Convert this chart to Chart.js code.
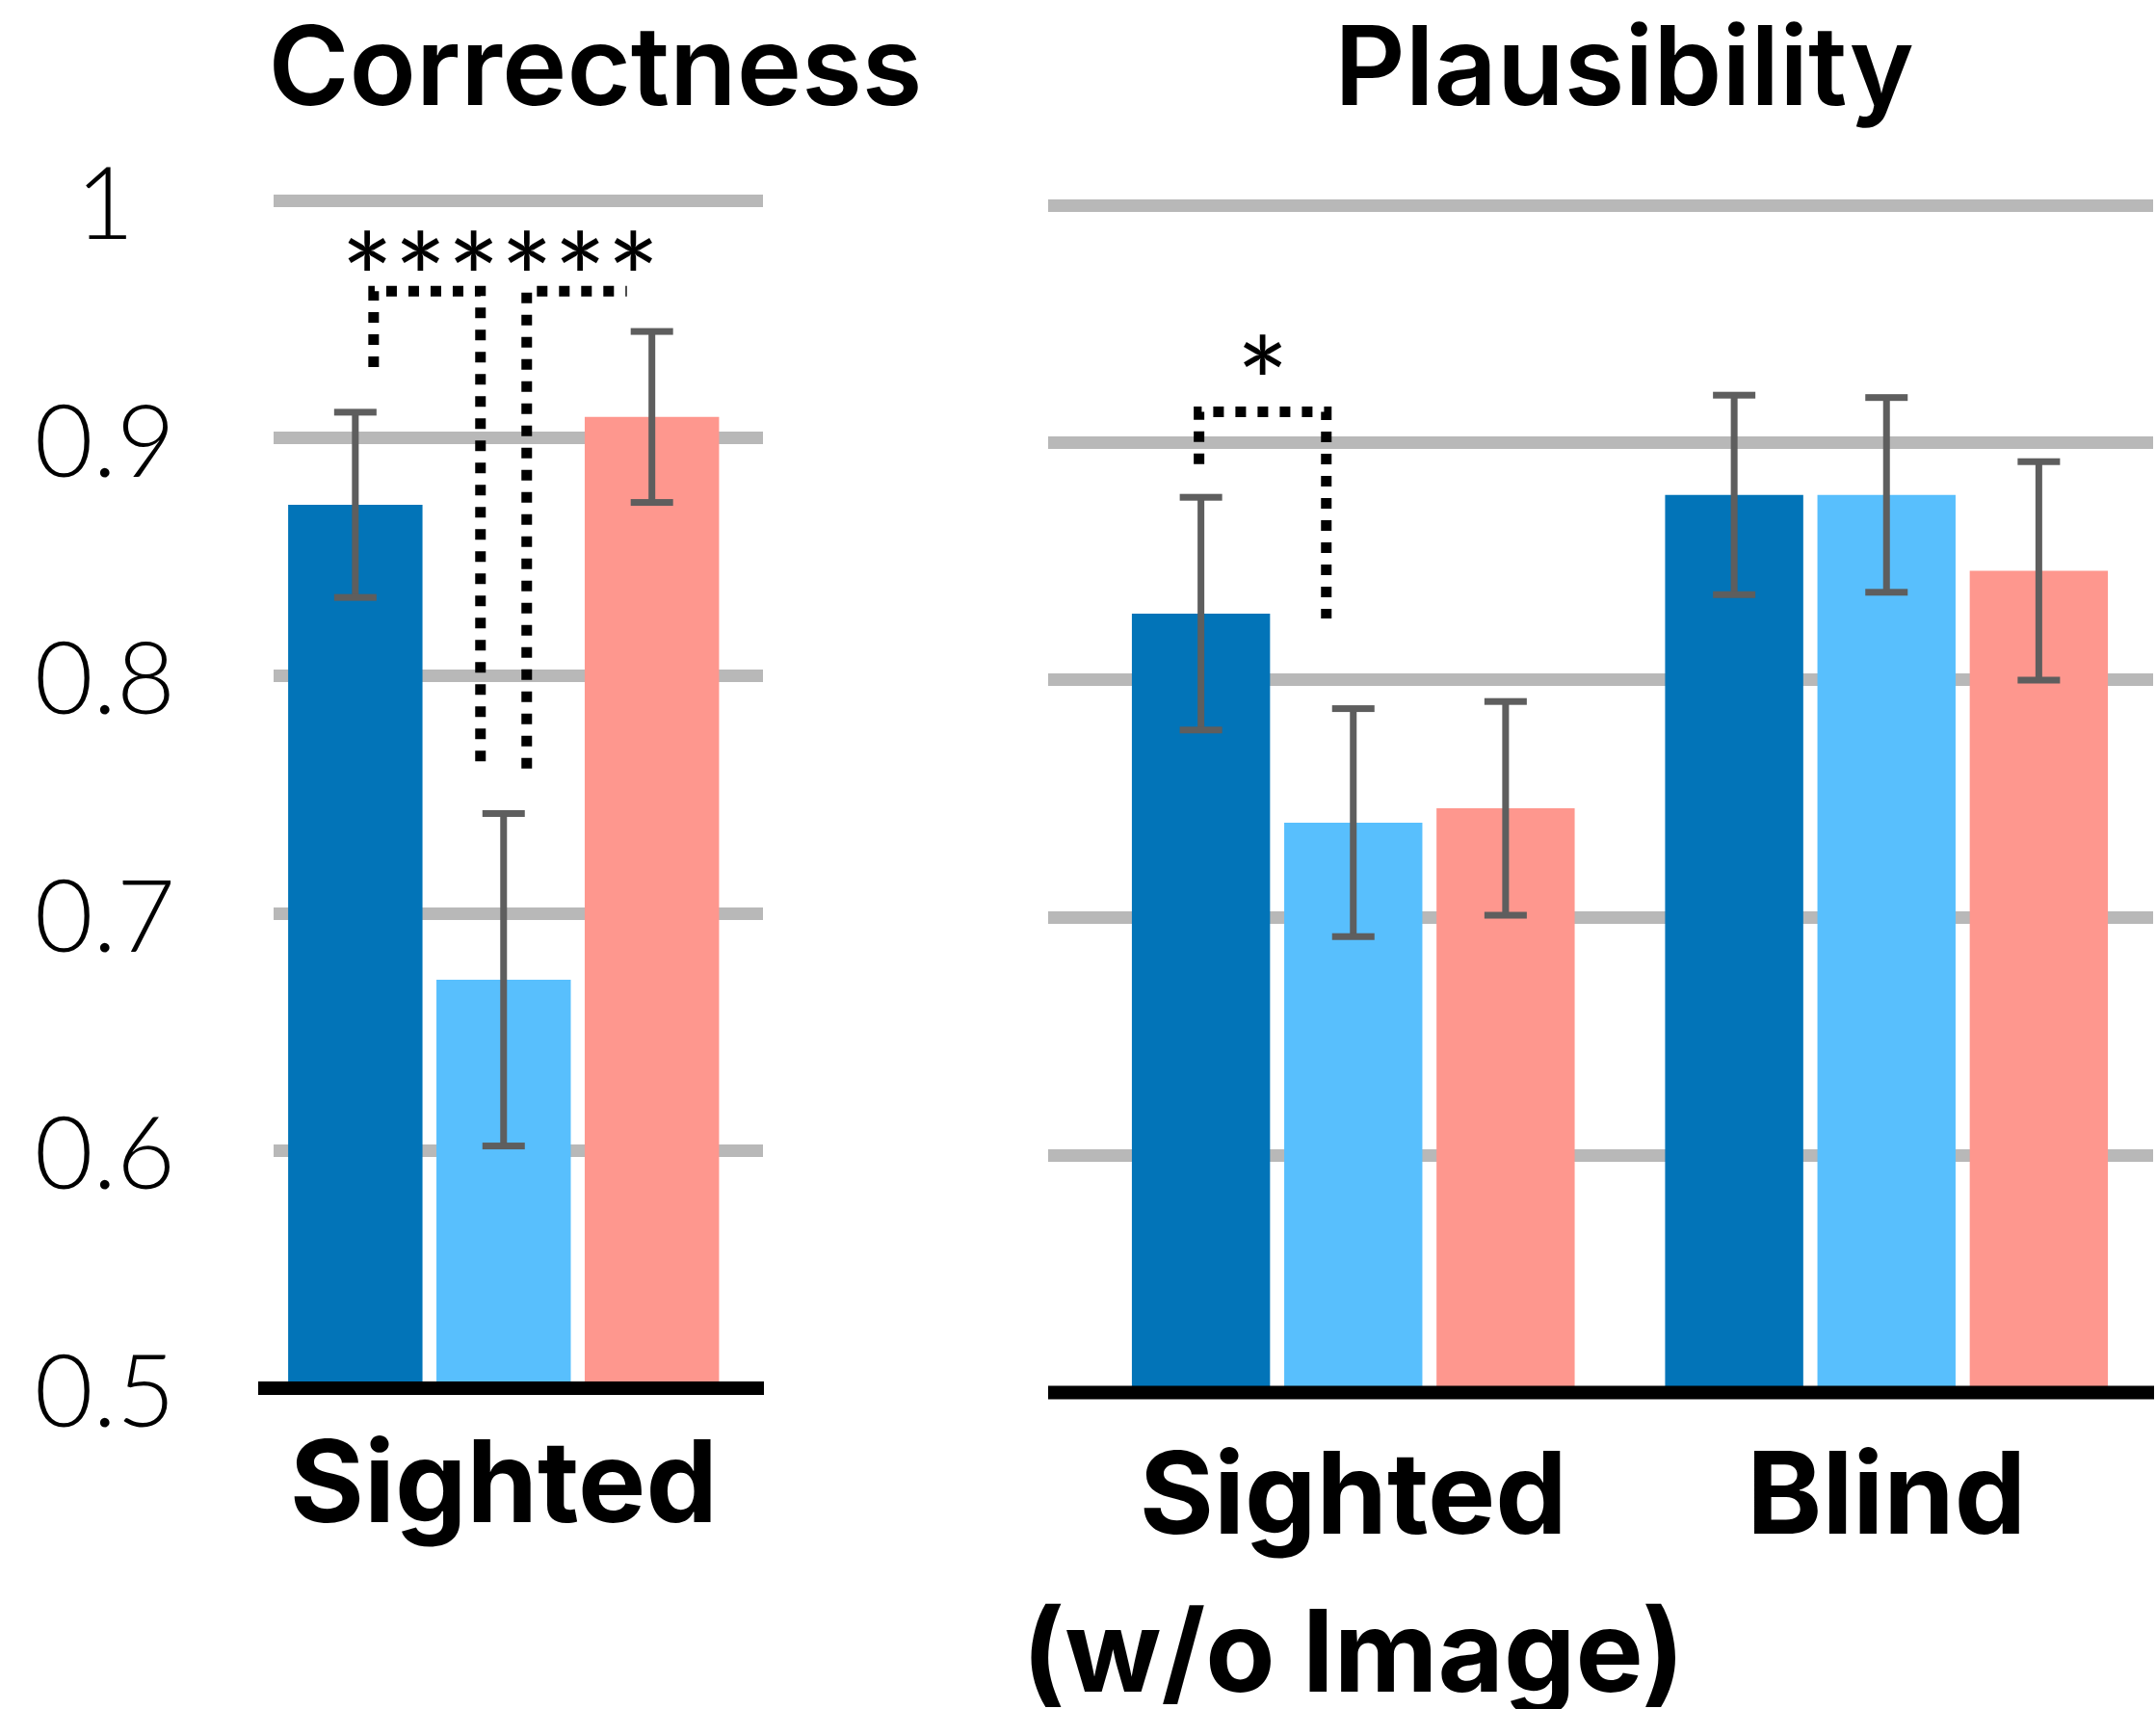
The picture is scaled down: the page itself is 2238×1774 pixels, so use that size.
<!DOCTYPE html>
<html>
<head>
<meta charset="utf-8">
<script src="https://cdn.jsdelivr.net/npm/chart.js@4.4.1/dist/chart.umd.min.js"></script>
<style>
  html, body { margin: 0; padding: 0; background: #fff; }
  #page { position: relative; width: 2238px; height: 1774px; overflow: hidden; background: #fff; }
  canvas { position: absolute; top: 0; }
  .title { position: absolute; top: 11px; width: 1000px; text-align: center; color: #000;
           font: 600 114px Inter, sans-serif; line-height: 114px; }
</style>
</head>
<body>
<div id="page">
  <canvas id="correctness" width="1000" height="1774" style="left:0"></canvas>
  <canvas id="plausibility" width="1238" height="1774" style="left:1000px"></canvas>
  <div class="title" style="left:118px">Correctness</div>
  <div class="title" style="left:1186px">Plausibility</div>
</div>
<script>
// three conditions, same order and colours in both panels (no legend in the figure)
const SERIES_NAMES = ['Condition 1', 'Condition 2', 'Condition 3'];
const SERIES_COLORS = ['#0274b8', '#58bffd', '#fe978e'];

const Y_TICKS = [0.5, 0.6, 0.7, 0.8, 0.9, 1];
const Y_TICK_LABELS = ['0.5', '0.6', '0.7', '0.8', '0.9', '1'];

// Correctness panel
const CORRECT_CATS = ['Sighted'];
const CORRECT_VALUES = [[0.872], [0.672], [0.909]];
const CORRECT_ERRORS = [[0.039], [0.070], [0.036]];

// Plausibility panel
const PLAUS_CATS = [['Sighted', '(w/o Image)'], 'Blind'];
const PLAUS_VALUES = [[0.828, 0.878], [0.740, 0.878], [0.746, 0.846]];
const PLAUS_ERRORS = [[0.049, 0.042], [0.048, 0.041], [0.045, 0.046]];

// significance brackets: series indexes inside one category, y levels of the ends
const CORRECT_SIG = [
  { cat: 0, from: 0, to: 1, top: 0.962, fromEnd: 0.930, toEnd: 0.761 },
  { cat: 0, from: 1, to: 2, top: 0.962, fromEnd: 0.761, toEnd: null }
];
const CORRECT_STARS = [{ text: '******', level: 0.979, over: [0, 1] }];
const PLAUS_SIG = [
  { cat: 0, from: 0, to: 1, top: 0.913, fromEnd: 0.891, toEnd: 0.826 }
];
const PLAUS_STARS = [{ text: '*', level: 0.937, over: [0] }];

// error bars, dotted brackets, stars and the black base line, drawn over the bars
const overlay = {
  id: 'overlay',
  afterDatasetsDraw(chart, args, o) {
    const ctx = chart.ctx;
    const area = chart.chartArea;
    const y = chart.scales.y;
    const barX = (s, i) => chart.getDatasetMeta(s).data[i].x;
    ctx.save();

    const y0 = y.getPixelForValue(y.min);
    ctx.fillStyle = '#000';
    ctx.fillRect(area.left - o.axisOverhang, y0 - 7, area.right - area.left + o.axisOverhang + 1, 14);

    ctx.fillStyle = '#5e5e5e';
    o.values.forEach((vals, s) => vals.forEach((v, i) => {
      const x = barX(s, i);
      const hi = y.getPixelForValue(v + o.errors[s][i]);
      const lo = y.getPixelForValue(v - o.errors[s][i]);
      ctx.fillRect(x - 3.5, hi, 7, lo - hi);
      ctx.fillRect(x - 22, hi - 3.5, 44, 7);
      ctx.fillRect(x - 22, lo - 3.5, 44, 7);
    }));

    ctx.strokeStyle = '#000';
    ctx.lineWidth = 11;
    ctx.lineCap = 'butt';
    ctx.setLineDash([11, 12]);
    const spans = o.brackets.map((b, k) => {
      const x1 = barX(b.from, b.cat) + o.nudges[k][0];
      const x2 = barX(b.to, b.cat) + o.nudges[k][1];
      const yt = y.getPixelForValue(b.top);
      ctx.beginPath();
      ctx.moveTo(x1, y.getPixelForValue(b.fromEnd));
      ctx.lineTo(x1, yt);
      ctx.lineTo(x2, yt);
      if (b.toEnd !== null) ctx.lineTo(x2, y.getPixelForValue(b.toEnd));
      ctx.stroke();
      return [x1, x2];
    });
    ctx.setLineDash([]);

    ctx.fillStyle = '#000';
    ctx.font = '400 130px Lato';
    ctx.textAlign = 'center';
    ctx.textBaseline = 'alphabetic';
    o.stars.forEach(st => {
      const xs = st.over.flatMap(k => spans[k]);
      const cx = (Math.min(...xs) + Math.max(...xs)) / 2;
      const m = ctx.measureText(st.text);
      const base = y.getPixelForValue(st.level) + (m.actualBoundingBoxAscent - m.actualBoundingBoxDescent) / 2;
      ctx.fillText(st.text, cx, base);
    });
    ctx.restore();
  }
};

const labelFont = { family: 'Inter', weight: 700, size: 118, lineHeight: 1.39 };

function yAxis(width, showLabels, tickLength) {
  return {
    min: 0.5,
    max: 1,
    afterBuildTicks: a => { a.ticks = Y_TICKS.map(v => ({ value: v })); },
    afterFit: a => { a.width = width; a.paddingTop = 0; a.paddingBottom = 0; },
    border: { display: false },
    grid: { color: '#b8b8b8', lineWidth: 13, drawTicks: tickLength > 0, tickLength: tickLength },
    ticks: {
      display: showLabels,
      callback: (v, i) => Y_TICK_LABELS[i],
      crossAlign: 'center',
      padding: 102,
      labelOffset: 6,
      color: '#000',
      font: { family: 'Lato', weight: 300, size: 105 }
    }
  };
}

function build() {
  new Chart(document.getElementById('correctness'), {
    type: 'bar',
    data: {
      datasets: SERIES_NAMES.map((name, s) => ({
        label: name,
        data: CORRECT_VALUES[s].map((v, i) => ({ x: i, y: v })),
        backgroundColor: SERIES_COLORS[s],
        categoryPercentage: 0.909,
        barPercentage: 0.906
      }))
    },
    options: {
      responsive: false,
      animation: false,
      layout: { padding: { top: 208.5, right: 208, bottom: 0, left: 0 } },
      plugins: {
        legend: { display: false },
        tooltip: { enabled: false },
        overlay: {
          values: CORRECT_VALUES, errors: CORRECT_ERRORS,
          brackets: CORRECT_SIG, nudges: [[19, -24], [24, -26]],
          stars: CORRECT_STARS, axisOverhang: 16
        }
      },
      scales: {
        x: {
          type: 'linear',
          min: -0.47,
          max: 0.53,
          offset: false,
          afterBuildTicks: a => { a.ticks = CORRECT_CATS.map((c, i) => ({ value: i })); },
          afterFit: a => { a.height = 333; a.paddingLeft = 0; a.paddingRight = 0; },
          border: { display: false },
          grid: { display: false, drawTicks: false },
          ticks: {
            callback: (v, i) => CORRECT_CATS[i],
            maxRotation: 0, minRotation: 0, autoSkip: false,
            padding: 22, color: '#000', font: labelFont
          }
        },
        y: yAxis(284, true, 0)
      }
    },
    plugins: [overlay]
  });

  new Chart(document.getElementById('plausibility'), {
    type: 'bar',
    data: {
      labels: PLAUS_CATS,
      datasets: SERIES_NAMES.map((name, s) => ({
        label: name,
        data: PLAUS_VALUES[s],
        backgroundColor: SERIES_COLORS[s],
        categoryPercentage: 0.857,
        barPercentage: 0.907
      }))
    },
    options: {
      responsive: false,
      animation: false,
      layout: { padding: { top: 213, right: 3, bottom: 0, left: 0 } },
      plugins: {
        legend: { display: false },
        tooltip: { enabled: false },
        overlay: {
          values: PLAUS_VALUES, errors: PLAUS_ERRORS,
          brackets: PLAUS_SIG, nudges: [[-2, -28]],
          stars: PLAUS_STARS, axisOverhang: 40
        }
      },
      scales: {
        x: {
          afterFit: a => { a.height = 328.5; a.paddingLeft = 0; a.paddingRight = 0; },
          border: { display: false },
          grid: { display: false, drawTicks: false },
          ticks: {
            maxRotation: 0, minRotation: 0, autoSkip: false,
            padding: 29, color: '#000', font: labelFont
          }
        },
        y: yAxis(128, false, 40)
      }
    },
    plugins: [overlay]
  });
}

Promise.all(['600 114px Inter', '700 118px Inter', '300 105px Lato', '400 130px Lato'].map(f => document.fonts.load(f)))
  .then(build, build);
</script>
</body>
</html>
